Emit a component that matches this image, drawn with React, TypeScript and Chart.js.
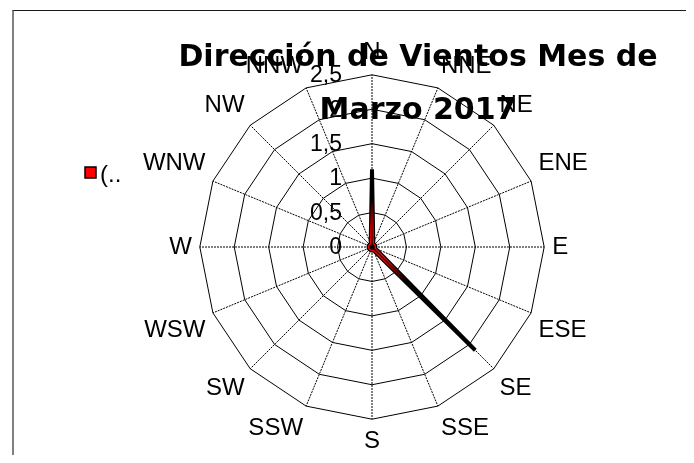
import React, { useEffect, useRef } from 'react';
import { Chart, registerables } from 'chart.js';

Chart.register(...registerables);

const directions = ['N', 'NNE', 'NE', 'ENE', 'E', 'ESE', 'SE', 'SSE', 'S', 'SSW', 'SW', 'WSW', 'W', 'WNW', 'NW', 'NNW'];
const windValues = [1.13, 0.05, 0.05, 0.05, 0.05, 0.05, 2.12, 0.05, 0.05, 0.05, 0.05, 0.05, 0.05, 0.05, 0.05, 0.05];
const seriesLabel = '(..';
const titleLines = ['Dirección de Vientos Mes de', 'Marzo 2017'];
const scaleMin = 0;
const scaleMax = 2.5;
const scaleStep = 0.5;

const overlayPlugin = {
  id: 'overlay',
  afterDraw(chart: any) {
    const ctx = chart.ctx;
    const s = chart.scales.r;
    ctx.save();
    // tick labels
    ctx.font = '23px "Liberation Sans", Arial, sans-serif';
    ctx.fillStyle = '#000';
    ctx.textAlign = 'right';
    ctx.textBaseline = 'middle';
    s.ticks.forEach((t: any) => {
      const d = s.getDistanceFromCenterForValue(t.value);
      ctx.fillText(String(t.value).replace('.', ','), s.xCenter - 30, s.yCenter - d + 1);
    });
    // legend
    const lx = s.xCenter - 287;
    const ly = s.yCenter - 80;
    ctx.fillStyle = '#ff0000';
    ctx.fillRect(lx, ly, 11, 11);
    ctx.strokeStyle = '#000';
    ctx.lineWidth = 1.5;
    ctx.strokeRect(lx, ly, 11, 11);
    ctx.fillStyle = '#000';
    ctx.textAlign = 'left';
    ctx.font = '24px "Liberation Sans", Arial, sans-serif';
    ctx.fillText(chart.data.datasets[0].label, lx + 15, ly + 8);
    // title
    ctx.font = 'bold 30px "DejaVu Sans", sans-serif';
    ctx.textAlign = 'center';
    ctx.textBaseline = 'alphabetic';
    ctx.fillText(titleLines[0], s.xCenter + 46, s.yCenter - 181);
    ctx.fillText(titleLines[1], s.xCenter + 46, s.yCenter - 128);
    ctx.restore();
  },
};

function redCore(c: any) {
  const chart = c.chart;
  const s = chart.scales && chart.scales.r;
  if (!s || s.xCenter == null) return '#ff0000';
  const g = chart.ctx.createRadialGradient(s.xCenter, s.yCenter, 0, s.xCenter, s.yCenter, 48);
  g.addColorStop(0, 'rgba(255,0,0,1)');
  g.addColorStop(0.4, 'rgba(255,0,0,1)');
  g.addColorStop(1, 'rgba(255,0,0,0)');
  return g;
}

export default function App() {
  const ref = useRef<HTMLCanvasElement>(null);
  useEffect(() => {
    if (!ref.current) return;
    const chart = new Chart(ref.current, {
      type: 'radar',
      data: {
        labels: directions,
        datasets: [
          {
            label: seriesLabel,
            data: windValues,
            borderColor: redCore,
            borderWidth: 1.3,
            fill: false,
            pointRadius: 0,
          },
          {
            label: seriesLabel,
            data: windValues,
            borderColor: '#000',
            borderWidth: 4,
            borderJoinStyle: 'bevel',
            fill: false,
            pointRadius: 0,
          },
        ],
      },
      options: {
        animation: false,
        responsive: false,
        maintainAspectRatio: false,
        layout: { padding: { left: 99, right: 49, top: 31, bottom: 6 } },
        plugins: {
          legend: { display: false },
          title: { display: false },
          tooltip: { enabled: false },
        },
        scales: {
          r: {
            min: scaleMin,
            max: scaleMax,
            ticks: { stepSize: scaleStep, display: false, showLabelBackdrop: false },
            grid: { color: '#000', lineWidth: 1 },
            angleLines: { color: '#000', lineWidth: 1, borderDash: [2, 1] },
            pointLabels: {
              color: '#000',
              padding: 8,
              font: { family: '"Liberation Sans", Arial, sans-serif', size: 24 },
            },
          },
        },
      },
      plugins: [overlayPlugin],
    });
    return () => chart.destroy();
  }, []);

  return (
    <div style={{ position: 'relative', width: 678, height: 447, overflow: 'hidden', background: '#fff' }}>
      <div
        style={{
          position: 'absolute',
          left: 4,
          top: 2,
          width: 800,
          height: 600,
          borderTop: '1px solid #1a1a1a',
          borderLeft: '2px solid #808080',
        }}
      />
      <canvas ref={ref} width={678} height={455} style={{ position: 'absolute', left: 0, top: 0, width: 678, height: 455 }} />
    </div>
  );
}
